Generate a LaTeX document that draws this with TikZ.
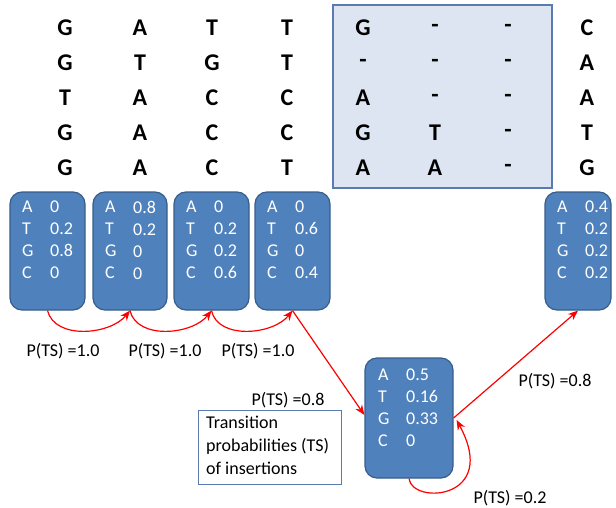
\documentclass[tikz,border=0pt]{standalone}
\usepackage{fontspec}
\setmainfont{Carlito}
\usetikzlibrary{arrows.meta,calc}
\definecolor{boxblue}{HTML}{4F81BD}
\definecolor{boxedge}{HTML}{385D8A}
\definecolor{shade}{HTML}{DCE5F1}
\definecolor{tedge}{HTML}{5A7BB0}
\begin{document}
\begin{tikzpicture}[x=1pt,y=-1pt,
  letter/.style={font=\fontsize{24}{24}\selectfont\bfseries,inner sep=0pt},
  pbox/.style={draw=boxedge,line width=1.2pt,fill=boxblue,rounded corners=12pt,inner sep=0pt},
  ptext/.style={text=white,font=\fontsize{18}{22}\selectfont,anchor=north west,inner sep=0pt,align=left},
  lbl/.style={font=\fontsize{18}{18}\selectfont,inner sep=0pt},
  arr/.style={red,line width=1.2pt,-{Stealth[length=10pt,width=8pt]}}]
\useasboundingbox (0,0) rectangle (616,508);
% shaded region
\node[draw=tedge,line width=1.2pt,fill=shade,minimum width=219pt,minimum height=183pt,inner sep=0pt] (shadebox) at (442.5,96.5) {};
% letters
\def\rowA{G,A,T,T,G,-,-,C}
\def\rowB{G,T,G,T,-,-,-,A}
\def\rowC{T,A,C,C,A,-,-,A}
\def\rowD{G,A,C,C,G,T,-,T}
\def\rowE{G,A,C,T,A,A,-,G}
\foreach \r/\y in {1/28,2/63,3/98,4/133,5/168}{
  \ifcase\r\or\edef\lst{\rowA}\or\edef\lst{\rowB}\or\edef\lst{\rowC}\or\edef\lst{\rowD}\or\edef\lst{\rowE}\fi
  \foreach \ch [count=\c] in \lst {
    \pgfmathsetmacro\xx{{65,140,212,287,363,435,508,587}[\c-1]}
    \node[letter] (l\r\c) at (\xx,\y) {\ch};
  }
}
% profile boxes
\node[pbox,minimum width=75pt,minimum height=118pt] (b1) at (47.5,251) {};
\node[pbox,minimum width=74pt,minimum height=118pt] (b2) at (130,251) {};
\node[pbox,minimum width=75pt,minimum height=118pt] (b3) at (211.5,251) {};
\node[pbox,minimum width=75pt,minimum height=118pt] (b4) at (292.5,251) {};
\node[pbox,minimum width=66pt,minimum height=118pt] (b5) at (578,251) {};
\node[pbox,minimum width=88pt,minimum height=120pt] (ins) at (409,418) {};
\node[ptext] (t1a) at (22,201) {A\\T\\G\\C};
\node[ptext] (t1b) at (50,201) {0\\0.2\\0.8\\0};
\node[ptext] (t2a) at (105,201) {A\\T\\G\\C};
\node[ptext] (t2b) at (133,201) {0.8\\0.2\\0\\0};
\node[ptext] (t3a) at (186,201) {A\\T\\G\\C};
\node[ptext] (t3b) at (214,201) {0\\0.2\\0.2\\0.6};
\node[ptext] (t4a) at (267,201) {A\\T\\G\\C};
\node[ptext] (t4b) at (295,201) {0\\0.6\\0\\0.4};
\node[ptext] (t5a) at (557,201) {A\\T\\G\\C};
\node[ptext] (t5b) at (585,201) {0.4\\0.2\\0.2\\0.2};
\node[ptext] (t6a) at (378,369) {A\\T\\G\\C};
\node[ptext] (t6b) at (406,369) {0.5\\0.16\\0.33\\0};
% transition arrows
\draw[arr] (b1.south) .. controls (55,340) and (110,335) .. (b2.south);
\draw[arr] (b2.south) .. controls (137,340) and (192,335) .. (b3.south);
\draw[arr] (b3.south) .. controls (218,340) and (273,335) .. (b4.south);
\draw[arr] (b4.south) -- ($(ins.west)+(0,-3)$);
\draw[arr] (ins.east) -- (b5.south);
\draw[arr] (ins.south) .. controls (412,505) and (500,500) .. ($(ins.east)+(3,2)$);
% labels
\node[lbl] (p1) at (63,351) {P(TS) =1.0};
\node[lbl] (p2) at (165,351) {P(TS) =1.0};
\node[lbl] (p3) at (258,351) {P(TS) =1.0};
\node[lbl] (p4) at (288,400) {P(TS) =0.8};
\node[lbl] (p5) at (555,381) {P(TS) =0.8};
\node[lbl] (p6) at (510,498) {P(TS) =0.2};
% text box
\node[draw=tedge,line width=0.8pt,minimum width=143pt,minimum height=74pt,inner sep=0pt] (tb) at (269.5,447) {};
\node[anchor=north west,inner sep=0pt,align=left,font=\fontsize{18}{23}\selectfont] (tbt) at (206,416) {Transition\\probabilities (TS)\\of insertions};
\end{tikzpicture}
\end{document}
